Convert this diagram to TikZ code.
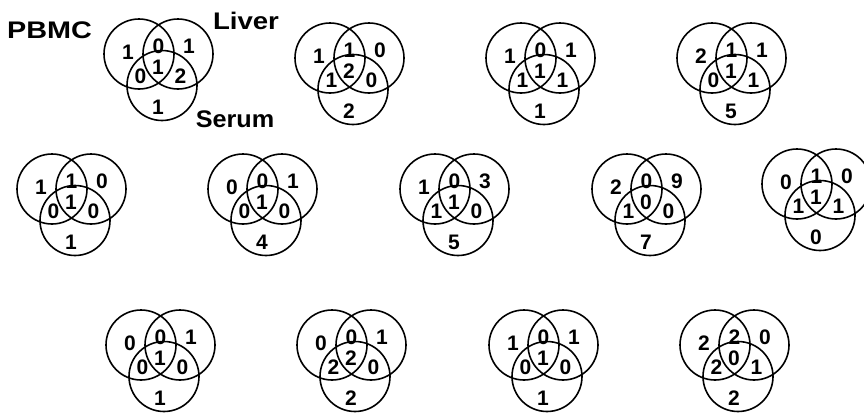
\documentclass[tikz,border=0pt]{standalone}
\usepackage{fontspec}
\setmainfont{Liberation Sans}
\usepackage{tikz}

% one diagram: name, then counts P, P+L, L, P+S, P+L+S, L+S, S
\newcommand{\venn}[8]{%
    \node[ring] (#1p) at (0,0) {};
    \node[ring] (#1l) at (39,0) {};
    \node[ring] (#1s) at (23,31.5) {};
    \node[count] (#1a) at (-11,-2) {#2};
    \node[count] (#1b) at (19.5,-8) {#3};
    \node[count] (#1c) at (50,-8) {#4};
    \node[count] (#1d) at (1.5,22) {#5};
    \node[count] (#1e) at (19,13) {#6};
    \node[count] (#1f) at (41.5,22.5) {#7};
    \node[count] (#1g) at (19,53) {#8};
}

\begin{document}
\begin{tikzpicture}[x=1pt,y=-1pt]
    \tikzstyle{ring}=[circle,draw,line width=1.6pt,minimum size=70pt,inner sep=0pt]  % Kreis
    \tikzstyle{count}=[inner sep=0pt,font=\fontsize{21}{21}\selectfont\bfseries]  % Zahl
    \tikzstyle{setname}=[inner sep=0pt,font=\fontsize{24}{24}\selectfont\bfseries]  % Beschriftung

    \useasboundingbox (0,0) rectangle (864,413);

    % erste Reihe
    \begin{scope}[shift={(139,54)}]\venn{v1}{1}{0}{1}{0}{1}{2}{1}\end{scope}
    \begin{scope}[shift={(330,58)}]\venn{v2}{1}{1}{0}{1}{2}{0}{2}\end{scope}
    \begin{scope}[shift={(521,58)}]\venn{v3}{1}{0}{1}{1}{1}{1}{1}\end{scope}
    \begin{scope}[shift={(712,58)}]\venn{v4}{2}{1}{1}{0}{1}{1}{5}\end{scope}
    % zweite Reihe
    \begin{scope}[shift={(52,189)}]\venn{v5}{1}{1}{0}{0}{1}{0}{1}\end{scope}
    \begin{scope}[shift={(243,189)}]\venn{v6}{0}{0}{1}{0}{1}{0}{4}\end{scope}
    \begin{scope}[shift={(435,189)}]\venn{v7}{1}{0}{3}{1}{1}{0}{5}\end{scope}
    \begin{scope}[shift={(627,189)}]\venn{v8}{2}{0}{9}{1}{0}{0}{7}\end{scope}
    \begin{scope}[shift={(797,184)}]\venn{v9}{0}{1}{0}{1}{1}{1}{0}\end{scope}
    % dritte Reihe
    \begin{scope}[shift={(141,345)}]\venn{v10}{0}{0}{1}{0}{1}{0}{1}\end{scope}
    \begin{scope}[shift={(332,345)}]\venn{v11}{0}{0}{1}{2}{2}{0}{2}\end{scope}
    \begin{scope}[shift={(524,345)}]\venn{v12}{1}{0}{1}{0}{1}{0}{1}\end{scope}
    \begin{scope}[shift={(715,345)}]\venn{v13}{2}{2}{0}{2}{0}{1}{2}\end{scope}

    % Beschriftung
    \node[setname] (pbmc) at (49.5,30) {\scalebox{1.2}[1]{PBMC}};
    \node[setname] (liver) at (246,21) {\scalebox{1.15}[1]{Liver}};
    \node[setname] (serum) at (235,119) {\scalebox{1.05}[1]{Serum}};
\end{tikzpicture}
\end{document}
